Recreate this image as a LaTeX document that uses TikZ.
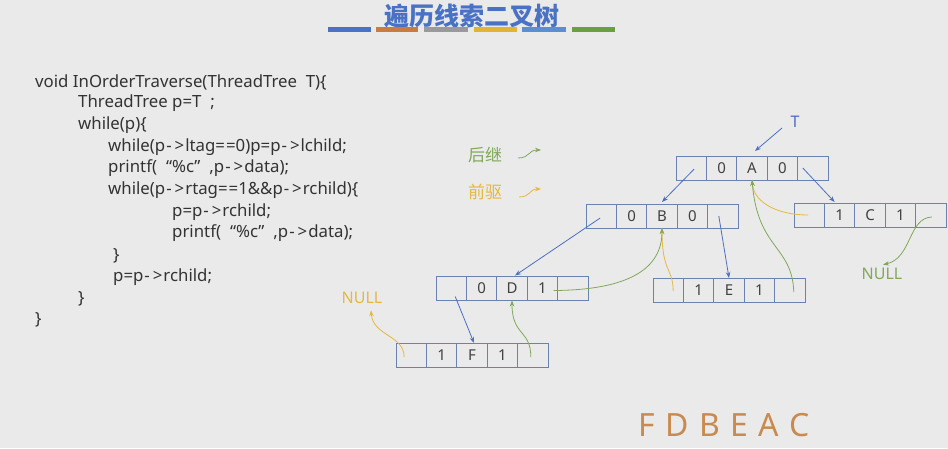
\documentclass[tikz,border=0pt]{standalone}
\usepackage{fontspec}
\setmainfont{Noto Sans}
\newfontfamily\cjk{Noto Sans CJK SC}
\usetikzlibrary{arrows.meta}
\definecolor{bgc}{HTML}{EBEAEB}
\definecolor{boxc}{HTML}{6A82B0}
\definecolor{bluec}{HTML}{4A70C0}
\definecolor{yelc}{HTML}{E6B840}
\definecolor{grnc}{HTML}{80A858}
\definecolor{orgc}{HTML}{C98A4F}
\definecolor{codec}{HTML}{333333}
\definecolor{cellt}{HTML}{404040}
\definecolor{titc}{HTML}{4A72C4}
\newcommand\threadrec[6]{%
 \node[cell] (#1a) at ({#2+15.2},#3) {};
 \node[cell] (#1b) at ({#2+45.6},#3) {#4};
 \node[cell] (#1c) at ({#2+76},#3) {#5};
 \node[cell] (#1d) at ({#2+106.4},#3) {#6};
 \node[cell] (#1e) at ({#2+136.8},#3) {};
}
\newcommand\parr{\kern1pt-\kern3pt>\kern1pt}
\newcommand\peq{=\kern1pt=}
\begin{document}
\begin{tikzpicture}[x=1pt,y=-1pt,
 cell/.style={draw=boxc,line width=0.8pt,minimum width=30.4pt,minimum height=24pt,inner sep=0pt,outer sep=0pt,font=\fontsize{15}{15}\selectfont,text=cellt},
 code/.style={anchor=west,inner sep=0pt,font=\fontsize{16.8}{18}\selectfont,text=codec},
 barr/.style={draw=bluec,line width=0.8pt,-{Stealth[length=6pt,width=4.5pt]}},
 yarr/.style={draw=yelc,line width=0.8pt,-{Stealth[length=6pt,width=4.5pt]}},
 garr/.style={draw=grnc,line width=0.8pt,-{Stealth[length=6pt,width=4.5pt]}},
 bar/.style={line width=5pt}]
\fill[bgc] (0,0) rectangle (948,448);
\useasboundingbox (0,0) rectangle (948,448);
% title
\node[font=\cjk\bfseries\fontsize{25}{25}\selectfont,text=titc] (title) at (472,16) {遍历线索二叉树};
\draw[bar,draw=titc] (328,29) -- (371,29);
\draw[bar,draw={rgb,255:red,201;green,124;blue,63}] (376,29) -- (418,29);
\draw[bar,draw={rgb,255:red,154;green,154;blue,154}] (424,29) -- (468,29);
\draw[bar,draw={rgb,255:red,224;green,181;blue,53}] (474,29) -- (517,29);
\draw[bar,draw={rgb,255:red,91;green,143;blue,208}] (522,29) -- (566,29);
\draw[bar,draw={rgb,255:red,106;green,160;blue,64}] (572,29) -- (615,29);
% code
\node[code] (l1) at (35,82) {void InOrderTraverse(ThreadTree\ \ T)\{};
\node[code] (l2) at (78,103) {ThreadTree p=T\kern9pt;};
\node[code] (l3) at (78,125) {while(p)\{};
\node[code] (l4) at (108,147) {while(p\parr ltag\peq 0)p=p\parr lchild;};
\node[code] (l5) at (108,168) {printf(\kern9pt“\%c”\kern9pt,p\parr data);};
\node[code] (l6) at (108,190) {while(p\parr rtag\peq 1\&\&p\parr rchild)\{};
\node[code] (l7) at (172,212) {p=p\parr rchild;};
\node[code] (l8) at (172,233) {printf(\kern9pt“\%c”\kern9pt,p\parr data);};
\node[code] (l9) at (113,256) {\}};
\node[code] (l10) at (113,277) {p=p\parr rchild;};
\node[code] (l11) at (78,299) {\}};
\node[code] (l12) at (35,320) {\}};
% legend
\node[font=\cjk\fontsize{17}{17}\selectfont,text=grnc] (succ) at (485,155) {后继};
\node[font=\cjk\fontsize{17}{17}\selectfont,text=yelc] (pred) at (485,192) {前驱};
\coordinate (g1) at (518,158); \coordinate (g2) at (541,150);
\coordinate (y1) at (519,197); \coordinate (y2) at (541,189);
\draw[garr] (g1) .. controls (530,158) and (528,150) .. (g2);
\draw[yarr] (y1) .. controls (531,197) and (529,189) .. (y2);
% records
\threadrec{A}{676}{168}{0}{A}{0}
\threadrec{B}{586}{216}{0}{B}{0}
\threadrec{C}{794}{215}{1}{C}{1}
\threadrec{D}{436}{288.5}{0}{D}{1}
\threadrec{E}{653}{290}{1}{E}{1}
\threadrec{F}{396}{355}{1}{F}{1}
% labels
\node[font=\fontsize{16}{16}\selectfont,text=bluec] (T) at (795,122) {T};
\node[font=\fontsize{16}{16}\selectfont,text=yelc] (nullF) at (362,298) {NULL};
\node[font=\fontsize{16}{16}\selectfont,text=grnc] (nullC) at (882,274) {NULL};
% blue child pointers
\draw[barr] ([xshift=-13pt,yshift=-6pt]T.center) -- ([xshift=3pt,yshift=5pt]Ac.north);
\draw[barr] ([xshift=3pt,yshift=-1pt]Aa.center) -- ([yshift=2pt]Bc.north);
\draw[barr] ([xshift=-10pt]Ae.center) -- ([xshift=-5pt,yshift=1pt]Cb.north);
\draw[barr] ([xshift=-1pt,yshift=-2pt]Ba.center) -- ([xshift=3pt,yshift=1pt]Dc.north);
\draw[barr] ([xshift=-4pt]Be.center) -- (Ec.north);
\draw[barr] ([xshift=4pt,yshift=-8pt]Da.center) -- ([xshift=2pt]Fc.north);
% yellow predecessor threads
\draw[yarr] ([xshift=-7pt,yshift=-2pt]Fa.center) .. controls (404,335) and (373,336) .. ([xshift=9pt,yshift=-3pt]nullF.south);
\draw[yarr] ([xshift=5pt,yshift=-1pt]Ea.center) .. controls (673,268) and (662,272) .. (Bc.south);
\draw[yarr] ([xshift=-1pt]Ca.center) .. controls (778,215) and (754,203) .. (Ac.south);
% green successor threads
\draw[garr] ([xshift=-2pt,yshift=-2pt]Fe.center) .. controls (531,330) and (512,336) .. (Dc.south);
\draw[garr] ([xshift=-4pt,yshift=-2pt]Dd.east) .. controls (630,290) and (662,268) .. (Bc.south);
\draw[garr] ([xshift=4pt,yshift=-2pt]Ee.center) .. controls (792,245) and (758,250) .. (Ac.south);
\draw[garr] ([xshift=1pt,yshift=-2pt]Ce.center) .. controls (908,218) and (912,258) .. ([xshift=1pt]nullC.north);
% result
\node[font=\fontsize{32}{32}\selectfont,text=orgc] (res) at (724,425) {F\hspace{2pt} D\hspace{2pt} B\hspace{2pt} E\hspace{2pt} A\hspace{2pt} C};
\end{tikzpicture}
\end{document}
